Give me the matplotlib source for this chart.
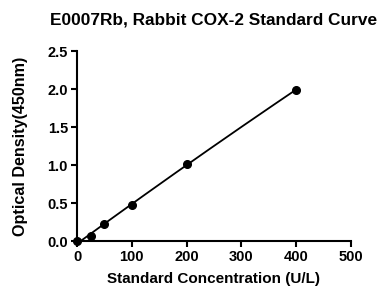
import numpy as np
import matplotlib
matplotlib.use("Agg")
import matplotlib.pyplot as plt

plt.rcParams['font.family'] = ['Liberation Sans', 'DejaVu Sans']
plt.rcParams['font.weight'] = 'bold'

# standard points
conc = [0, 25, 50, 100, 200, 400]
od = [0.0, 0.06, 0.23, 0.47, 1.02, 1.99]
x_ticks = [0, 100, 200, 300, 400, 500]
y_ticks = [0.0, 0.5, 1.0, 1.5, 2.0, 2.5]

fig = plt.figure(figsize=(3.82, 2.89), dpi=100)
ax = fig.add_axes([0.2016, 0.166, 0.717, 0.657])

# fitted curve through the standards
coef = np.polyfit(conc, od, 2)
xs = np.linspace(0, 400, 200)
ax.plot(xs, np.polyval(coef, xs), color='black', lw=1.3)
ax.plot(conc, od, 'o', color='black', ms=5.5, clip_on=False, zorder=3)

ax.set_xlim(0, 500)
ax.set_ylim(0, 2.5)
ax.set_xticks(x_ticks)
ax.set_yticks(y_ticks)
ax.set_yticklabels([f"{v:.1f}" for v in y_ticks])
for s in ['top', 'right']:
    ax.spines[s].set_visible(False)
for s in ['left', 'bottom']:
    ax.spines[s].set_linewidth(1.5)
ax.tick_params(direction='out', length=4, width=1.5, labelsize=10.5, pad=2.5)

ax.set_xlabel('Standard Concentration (U/L)', fontsize=11, fontweight='bold', labelpad=6)
ax.set_ylabel('Optical Density(450nm)', fontsize=11.6, fontweight='bold', labelpad=14)
ax.set_title('E0007Rb, Rabbit COX-2 Standard Curve', fontsize=12.4,
             fontweight='bold', pad=19, x=0.5)

fig.savefig('out.png', dpi=100)
